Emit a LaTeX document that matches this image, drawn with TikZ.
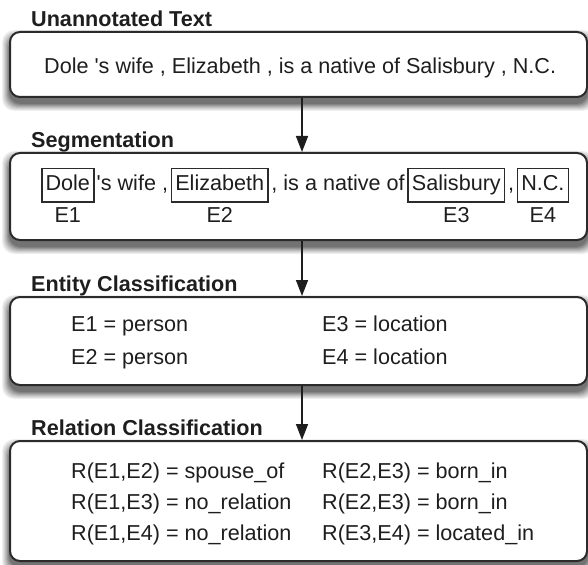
\documentclass[tikz,border=0pt]{standalone}
\usepackage{fontspec}
\setmainfont{Liberation Sans}
\usetikzlibrary{positioning,arrows.meta}

\definecolor{inkgray}{HTML}{1E1E1E}
\definecolor{linegray}{HTML}{2B2B2B}
\newcommand{\stagesize}{\fontsize{21.6}{26}\selectfont}

\tikzset{
  stage/.style={draw=linegray, line width=2pt, rounded corners=10pt, fill=white},
  haze/.style={fill=black!#1, rounded corners=12pt},
  title/.style={anchor=base west, inner sep=0pt, font=\stagesize\bfseries, text=inkgray},
  line/.style={anchor=base west, inner sep=0pt, font=\stagesize, text=inkgray},
  seg/.style={inner sep=0pt, text height=16pt, text depth=5.5pt, font=\stagesize, text=inkgray},
  ent/.style={seg, draw=linegray, line width=1.5pt, inner xsep=3.8pt, inner ysep=6pt},
  flow/.style={-{Triangle[width=12pt,length=16pt]}, line width=1.5pt, draw=inkgray},
}

\begin{document}
\begin{tikzpicture}[x=1pt,y=-1pt]
\useasboundingbox (0,0) rectangle (588,564);

% soft shadows under the stages
\foreach \k/\g in {8/6,7/12,6/18,5/25,4/32,3/40,2/48,1/55} {
  \fill[haze=\g] (10-\k,38-\k) rectangle (587+\k,103+\k);
  \fill[haze=\g] (10-\k,159-\k) rectangle (587+\k,246+\k);
  \fill[haze=\g] (10-\k,303-\k) rectangle (587+\k,391+\k);
  \fill[haze=\g] (10-\k,447-\k) rectangle (587+\k,567+\k);
}

% the four stages
\node[stage, minimum width=577, minimum height=65] (raw) at (298.5,64.5) {};
\node[stage, minimum width=577, minimum height=87] (segm) at (298.5,196.5) {};
\node[stage, minimum width=577, minimum height=88] (entcls) at (298.5,341) {};
\node[stage, minimum width=577, minimum height=120] (relcls) at (298.5,501) {};

\node[title] (t1) at (31,27) {Unannotated Text};
\node[title] (t2) at (31,147) {Segmentation};
\node[title] (t3) at (31,291) {Entity Classification};
\node[title] (t4) at (31,435) {Relation Classification};

% arrows down the middle
\coordinate (spine) at (302,0);
\draw[flow] (raw.south -| spine) -- (segm.north -| spine);
\draw[flow] (segm.south -| spine) -- (entcls.north -| spine);
\draw[flow] (entcls.south -| spine) -- (relcls.north -| spine);

% unannotated sentence
\node[line] (sent) at (44,74) {Dole \textquotesingle s wife , Elizabeth , is a native of Salisbury , N.C.};

% segmented sentence
\node[ent, anchor=west] (dole) at (41,185) {Dole};
\node[seg, right=2pt of dole] (w1) {\textquotesingle s wife ,};
\node[ent, right=2.5pt of w1] (eliz) {Elizabeth};
\node[seg, right=2.5pt of eliz] (w2) {, is a native of};
\node[ent, right=2.5pt of w2] (salis) {Salisbury};
\node[seg, right=2.5pt of salis] (w3) {,};
\node[ent, right=2.5pt of w3] (nc) {N.C.};

\node[seg, below=4pt of dole] (e1) {E1};
\node[seg, below=4pt of eliz] (e2) {E2};
\node[seg, below=4pt of salis] (e3) {E3};
\node[seg, below=4pt of nc] (e4) {E4};

% entity types
\node[line] (c1) at (71,331) {E1 = person};
\node[line] (c2) at (71,364) {E2 = person};
\node[line] (c3) at (322,331) {E3 = location};
\node[line] (c4) at (322,364) {E4 = location};

% relations
\node[line] (r1) at (71,478) {R(E1,E2) = spouse\_of};
\node[line] (r2) at (71,509) {R(E1,E3) = no\_relation};
\node[line] (r3) at (71,540) {R(E1,E4) = no\_relation};
\node[line] (r4) at (322,478) {R(E2,E3) = born\_in};
\node[line] (r5) at (322,509) {R(E2,E3) = born\_in};
\node[line] (r6) at (322,540) {R(E3,E4) = located\_in};
\end{tikzpicture}
\end{document}
